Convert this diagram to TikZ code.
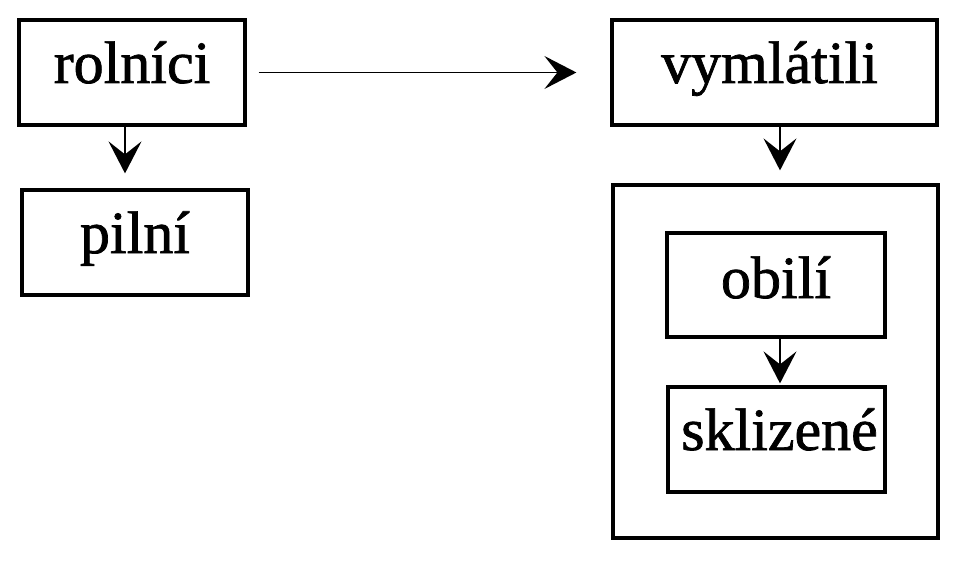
\documentclass[tikz,border=0pt]{standalone}
\usepackage{fontspec}
\setmainfont{Liberation Serif}
\newfontfamily\heavyserif{Liberation Serif}[FakeBold=1.2]
\usetikzlibrary{arrows.meta}
\begin{document}
\begin{tikzpicture}[x=1pt,y=-1pt,
  box/.style={draw, line width=3.2pt, inner sep=0pt, font=\heavyserif\fontsize{60}{62}\selectfont,
    text height=21pt, text depth=0pt},
  arr/.style={line width=1.8pt, -{Stealth[length=32pt,width=33pt,inset=13pt]}}]
\useasboundingbox[fill=white] (0,0) rectangle (976,575);
\node[box, minimum width=226pt, minimum height=105pt] (rolnici) at (132,72.5) {rolníci};
\node[box, minimum width=226pt, minimum height=105pt] (pilni) at (135,242.5) {pilní};
\node[box, minimum width=325pt, minimum height=105pt] (vymlatili) at (774.5,72.5) {\hspace*{-10pt}vymlátili};
\node[box, minimum width=325pt, minimum height=353pt] (outer) at (775.5,361.5) {};
\node[box, minimum width=218pt, minimum height=104pt, text height=26pt] (obili) at (776,285) {obilí};
\node[box, minimum width=217pt, minimum height=105pt] (sklizene) at (776.5,439.5) {\hspace*{6pt}sklizené};
\draw[arr, shorten >=15pt] ([xshift=-7pt]rolnici.south) -- ([xshift=-10pt]pilni.north);
\draw[arr, shorten <=12pt, shorten >=34pt] (rolnici.east) -- (vymlatili.west);
\draw[arr, shorten >=13pt] ([xshift=5.5pt]vymlatili.south) -- ([xshift=4.5pt]outer.north);
\draw[arr, shorten >=2pt] ([xshift=4pt]obili.south) -- ([xshift=3.5pt]sklizene.north);
\end{tikzpicture}
\end{document}
